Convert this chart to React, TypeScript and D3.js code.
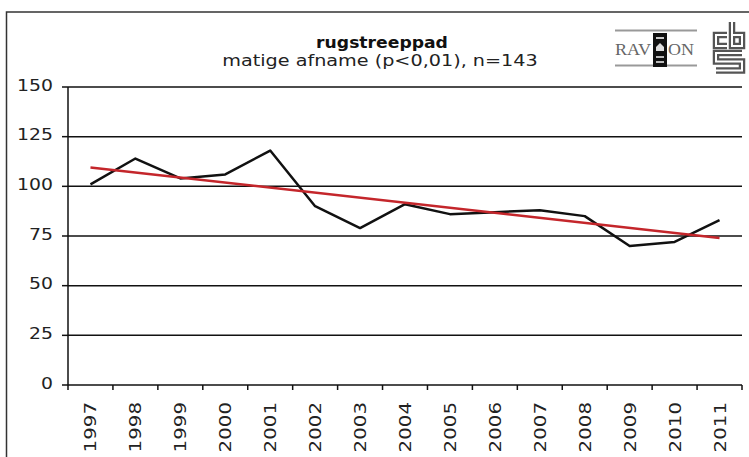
import React from "react";
import * as d3 from "d3";

const years = ["1997", "1998", "1999", "2000", "2001", "2002", "2003", "2004", "2005", "2006", "2007", "2008", "2009", "2010", "2011"];
const index = [101, 114, 104, 106, 118, 90, 79, 91, 86, 87, 88, 85, 70, 72, 83];
const trendEnds = [109.5, 74];
const yTicks = [0, 25, 50, 75, 100, 125, 150];

const title = "rugstreeppad";
const subtitle = "matige afname (p<0,01), n=143";

const W = 749;
const H = 457;
const margin = { top: 87, right: 7, bottom: 72, left: 68 };

const font = "'DejaVu Sans', Verdana, sans-serif";

const App: React.FC = () => {
  const x = d3
    .scaleBand<string>()
    .domain(years)
    .range([margin.left, W - margin.right])
    .padding(0);
  const y = d3
    .scaleLinear()
    .domain([0, 150])
    .range([H - margin.bottom, margin.top]);

  const cx = (yr: string) => (x(yr) || 0) + x.bandwidth() / 2;
  const line = d3
    .line<number>()
    .x((_, i) => cx(years[i]))
    .y((d) => y(d));

  const trendX = d3
    .scaleLinear()
    .domain([0, 1])
    .range([cx(years[0]), cx(years[years.length - 1])]);

  const x0 = margin.left;
  const x1 = W - margin.right;
  const y0 = y(0);

  const cbsPaths = [
    "M727,35 L716,35 L716,46 L727,46",
    "M732,22 L732,46 L742,46 L742,35 L732,35",
    "M742,53 L716,53 L716,61.5 L742,61.5 L742,70.5 L716,70.5",
  ];

  return (
    <svg
      width={W}
      height={H}
      style={{ position: "absolute", left: 0, top: 0, background: "#fff" }}
    >
      {/* outer frame */}
      <rect x={6.5} y={12} width={760} height={480} fill="#fff" stroke="#333" strokeWidth={1.5} />

      {/* titles */}
      <text
        transform="translate(382,48) scale(1.11,1)"
        textAnchor="middle"
        fontFamily={font}
        fontWeight="bold"
        fontSize={15.5}
        fill="#111"
      >
        {title}
      </text>
      <text
        transform="translate(380,66) scale(1.2,1)"
        textAnchor="middle"
        fontFamily={font}
        fontSize={16}
        fill="#222"
      >
        {subtitle}
      </text>

      {/* RAVON logo */}
      <g>
        <line x1={615} x2={697} y1={30.5} y2={30.5} stroke="#999" strokeWidth={2} />
        <line x1={615} x2={697} y1={65.5} y2={65.5} stroke="#999" strokeWidth={2} />
        <text x={615} y={55} fontFamily="'Liberation Serif', serif" fontSize={17} fill="#666" textLength={36} lengthAdjust="spacingAndGlyphs">
          RAV
        </text>
        <rect x={653} y={33} width={14} height={34} fill="#111" />
        <rect x={656} y={37} width={8} height={2} fill="#ccc" />
        <path d="M656,47 L660,43 L664,47 L664,51 L656,51 Z" fill="#ddd" />
        <rect x={656} y={56} width={8} height={2} fill="#bbb" />
        <rect x={656} y={61} width={8} height={2} fill="#bbb" />
        <text x={668} y={55} fontFamily="'Liberation Serif', serif" fontSize={17} fill="#666" textLength={26} lengthAdjust="spacingAndGlyphs">
          ON
        </text>
      </g>

      {/* CBS logo */}
      <g fill="none" strokeLinejoin="miter">
        <g stroke="#555" strokeWidth={6.5}>
          {cbsPaths.map((d, i) => (
            <path key={"co" + i} d={d} />
          ))}
        </g>
        <g stroke="#fff" strokeWidth={2}>
          {cbsPaths.map((d, i) => (
            <path key={"ci" + i} d={d} />
          ))}
        </g>
      </g>

      {/* gridlines */}
      {yTicks.filter((t) => t > 0).map((t) => (
        <line key={"g" + t} x1={x0} x2={x1} y1={y(t)} y2={y(t)} stroke="#111" strokeWidth={1.5} />
      ))}

      {/* y axis */}
      <line x1={x0} x2={x0} y1={y(150)} y2={y0} stroke="#111" strokeWidth={1.5} />
      {yTicks.map((t) => (
        <g key={"y" + t}>
          <line x1={x0 - 6} x2={x0} y1={y(t)} y2={y(t)} stroke="#111" strokeWidth={1.5} />
          <text
            x={0}
            y={0}
            transform={`translate(${x0 - 15},${y(t) - 1}) scale(1.14,1)`}
            textAnchor="end"
            dominantBaseline="middle"
            fontFamily={font}
            fontSize={16.5}
            fill="#222"
          >
            {t}
          </text>
        </g>
      ))}

      {/* x axis */}
      <line x1={x0} x2={x1} y1={y0} y2={y0} stroke="#111" strokeWidth={1.5} />
      {[...years.map((yr) => x(yr) || 0), x1].map((px, i) => (
        <line key={"xt" + i} x1={px} x2={px} y1={y0} y2={y0 + 5} stroke="#111" strokeWidth={1.5} />
      ))}
      {years.map((yr) => (
        <text
          key={"xl" + yr}
          transform={`translate(${cx(yr) + 6},${y0 + 17}) rotate(-90) scale(1.2,1)`}
          textAnchor="end"
          fontFamily={font}
          fontSize={16.5}
          fill="#222"
        >
          {yr}
        </text>
      ))}

      {/* data line */}
      <path d={line(index) || ""} fill="none" stroke="#111" strokeWidth={2.5} strokeLinejoin="round" />

      {/* trend line */}
      <line
        x1={trendX(0)}
        x2={trendX(1)}
        y1={y(trendEnds[0])}
        y2={y(trendEnds[1])}
        stroke="#c4262b"
        strokeWidth={2.5}
      />
    </svg>
  );
};

export default App;
